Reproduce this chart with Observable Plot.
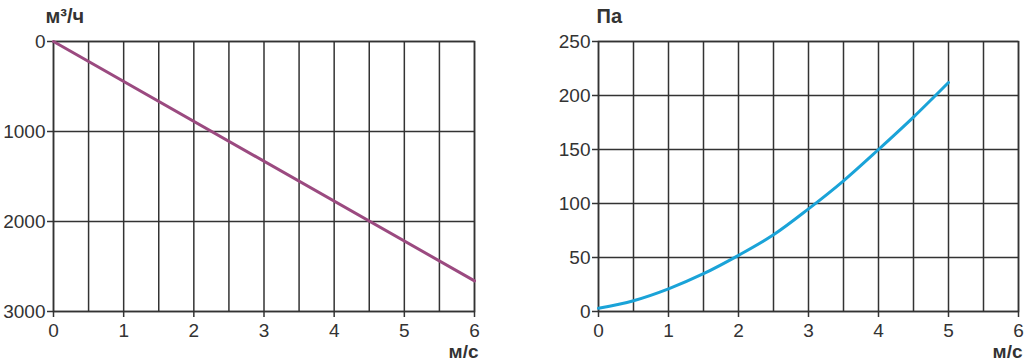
<!DOCTYPE html>
<html><head><meta charset="utf-8">
<script src="https://cdn.jsdelivr.net/npm/d3@7"></script>
<script src="https://cdn.jsdelivr.net/npm/@observablehq/plot@0.6"></script>
<style>
body{margin:0;background:#fff;}
#wrap{display:flex;width:1024px;height:364px;}
svg{font-family:"Liberation Sans",Arial,sans-serif;}
</style></head>
<body><div id="wrap"></div>
<script>
// Left panel: air flow (m³/h) vs speed (m/s)
const flowSpeed = [0, 6];
const flowValues = [0, 2660];
const flowYTicks = [0, 1000, 2000, 3000];
// Right panel: pressure (Pa) vs speed (m/s)
const presSpeed = [0, 0.5, 1, 1.5, 2, 2.5, 3, 3.5, 4, 4.5, 5];
const presValues = [3, 10, 21, 35, 52, 71, 95, 121, 150, 180, 212];
const presYTicks = [0, 50, 100, 150, 200, 250];
const xTicks = [0, 1, 2, 3, 4, 5, 6];
const xGrid = [0, 0.5, 1, 1.5, 2, 2.5, 3, 3.5, 4, 4.5, 5, 5.5, 6];

const ink = "#333";
const fs = 19;

function panel({data, yDomain, yTicks, color, yLabel, ml, mr, reverse, curve, ldx}) {
  return Plot.plot({
    width: 512, height: 364,
    marginLeft: ml, marginRight: mr, marginTop: 41, marginBottom: 53,
    style: {fontSize: fs + "px", color: ink, overflow: "visible"},
    x: {domain: [0, 6]},
    y: {domain: yDomain, reverse},
    marks: [
      Plot.gridX(xGrid, {stroke: ink, strokeOpacity: 1, strokeWidth: 1.5}),
      Plot.gridY(yTicks, {stroke: ink, strokeOpacity: 1, strokeWidth: 1.5}),
      Plot.frame({stroke: ink, strokeWidth: 1.5}),
      Plot.axisX(xTicks, {tickSize: 6, tickPadding: 6, stroke: ink, strokeWidth: 1.5, fill: ink, fontSize: fs, tickFormat: d => String(d), label: null}),
      Plot.axisY(yTicks, {tickSize: 6, tickPadding: 2, stroke: ink, strokeWidth: 1.5, fill: ink, fontSize: fs, tickFormat: d => String(d), label: null}),
      Plot.line(data, {x: "x", y: "y", stroke: color, strokeWidth: 3, curve}),
      Plot.text([yLabel], {frameAnchor: "top-left", dx: ldx, dy: -33, fontWeight: "bold", fontSize: 20, fill: ink, textAnchor: "start"}),
      Plot.text(["м/с"], {frameAnchor: "bottom-right", dx: 4, dy: 46, fontWeight: "bold", fontSize: 19, fill: ink, textAnchor: "end"})
    ]
  });
}

const flowData = flowSpeed.map((x, i) => ({x, y: flowValues[i]}));
const presData = presSpeed.map((x, i) => ({x, y: presValues[i]}));

const wrap = document.getElementById("wrap");
wrap.append(panel({data: flowData, yDomain: [0, 3000], yTicks: flowYTicks, color: "#9b4a80", yLabel: "м³/ч", ml: 53, mr: 38, reverse: true, curve: "linear", ldx: -8}));
wrap.append(panel({data: presData, yDomain: [0, 250], yTicks: presYTicks, color: "#1aa3d8", yLabel: "Па", ml: 86, mr: 6, reverse: false, curve: "catmull-rom", ldx: -2}));
</script></body></html>
